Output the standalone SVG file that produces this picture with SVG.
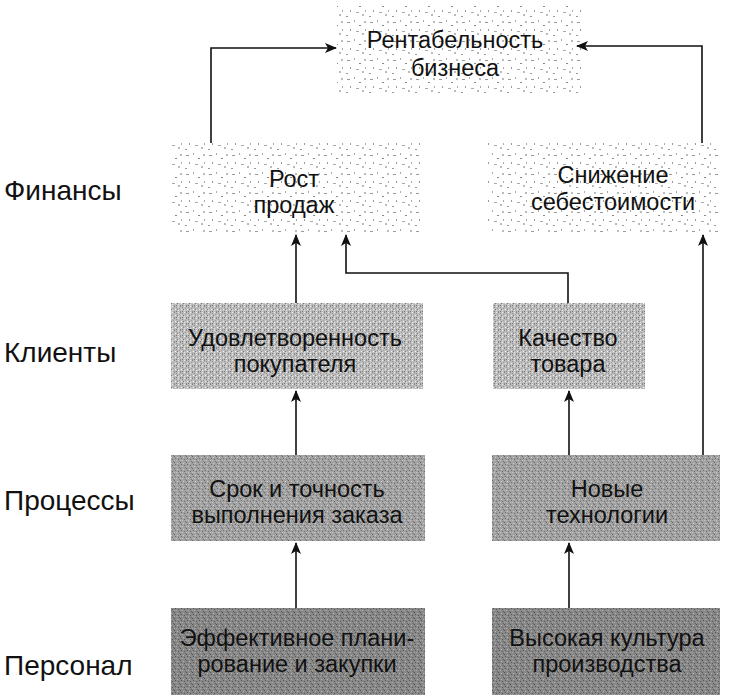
<svg xmlns="http://www.w3.org/2000/svg" width="746" height="695" viewBox="0 0 746 695">
<style>
.lbl{font-family:"Liberation Sans",Arial,sans-serif;font-size:28px;fill:#111}
.t{font-family:"Liberation Sans",Arial,sans-serif;font-size:23.5px;fill:#111;text-anchor:middle}
.c{fill:none;stroke:#111;stroke-width:1.6}
</style>
<defs>
<marker id="ah" viewBox="0 0 12 10" refX="11" refY="5" markerWidth="12" markerHeight="10" markerUnits="userSpaceOnUse" orient="auto">
<path d="M0,0 L12,5 L0,10 L3,5 Z" fill="#111"/>
</marker>
<pattern id="pF" width="23" height="19" patternUnits="userSpaceOnUse">
<rect width="23" height="19" fill="#fff"/>
<rect x="2" y="3" width="3" height="1" fill="#999"/>
<rect x="9" y="1" width="1" height="2" fill="#aaa"/>
<rect x="14" y="6" width="2" height="1" fill="#888"/>
<rect x="19" y="2" width="2" height="2" fill="#bbb"/>
<rect x="5" y="10" width="1" height="2" fill="#999"/>
<rect x="11" y="12" width="3" height="1" fill="#aaa"/>
<rect x="17" y="14" width="2" height="2" fill="#bbb"/>
<rect x="1" y="16" width="2" height="1" fill="#999"/>
<rect x="20" y="10" width="1" height="2" fill="#aaa"/>
</pattern>
<pattern id="pC" width="6" height="6" patternUnits="userSpaceOnUse">
<rect width="6" height="6" fill="#bdbdbd"/>
<rect x="0" y="0" width="1" height="1" fill="#808080"/>
<rect x="2" y="1" width="1" height="1" fill="#8e8e8e"/>
<rect x="4" y="0" width="1" height="1" fill="#eee"/>
<rect x="1" y="3" width="1" height="1" fill="#f2f2f2"/>
<rect x="3" y="3" width="1" height="1" fill="#7c7c7c"/>
<rect x="5" y="2" width="1" height="1" fill="#a0a0a0"/>
<rect x="0" y="5" width="1" height="1" fill="#909090"/>
<rect x="4" y="4" width="1" height="1" fill="#e6e6e6"/>
<rect x="2" y="5" width="1" height="1" fill="#777"/>
</pattern>
<pattern id="pP" width="6" height="6" patternUnits="userSpaceOnUse">
<rect width="6" height="6" fill="#a2a2a2"/>
<rect x="0" y="0" width="1" height="1" fill="#666"/>
<rect x="3" y="1" width="1" height="1" fill="#d0d0d0"/>
<rect x="1" y="2" width="1" height="1" fill="#707070"/>
<rect x="4" y="3" width="1" height="1" fill="#6a6a6a"/>
<rect x="2" y="4" width="1" height="1" fill="#c8c8c8"/>
<rect x="5" y="5" width="1" height="1" fill="#7a7a7a"/>
<rect x="0" y="4" width="1" height="1" fill="#bbb"/>
</pattern>
<pattern id="pE" width="6" height="6" patternUnits="userSpaceOnUse">
<rect width="6" height="6" fill="#888"/>
<rect x="0" y="0" width="1" height="1" fill="#505050"/>
<rect x="3" y="1" width="1" height="1" fill="#b5b5b5"/>
<rect x="1" y="2" width="1" height="1" fill="#585858"/>
<rect x="4" y="3" width="1" height="1" fill="#5a5a5a"/>
<rect x="2" y="4" width="1" height="1" fill="#aaa"/>
<rect x="5" y="5" width="1" height="1" fill="#606060"/>
<rect x="0" y="4" width="1" height="1" fill="#a0a0a0"/>
</pattern>
</defs>
<rect width="746" height="695" fill="#fff"/>

<g id="row-labels">
<text class="lbl" x="4" y="200">Финансы</text>
<text class="lbl" x="4" y="362">Клиенты</text>
<text class="lbl" x="4" y="510">Процессы</text>
<text class="lbl" x="4" y="675">Персонал</text>
</g>

<g id="n-rent"><rect x="337" y="4" width="245" height="90" fill="url(#pF)"/>
<text class="t" x="455" y="48">Рентабельность</text><text class="t" x="455" y="76">бизнеса</text></g>

<g id="n-rost"><rect x="172" y="143" width="250" height="90" fill="url(#pF)"/>
<text class="t" x="294" y="187">Рост</text><text class="t" x="294" y="213">продаж</text></g>

<g id="n-snizh"><rect x="488" y="143" width="230" height="90" fill="url(#pF)"/>
<text class="t" x="613" y="183">Снижение</text><text class="t" x="613" y="210">себестоимости</text></g>

<g id="n-udov"><rect x="171" y="303" width="252" height="86" fill="url(#pC)"/>
<text class="t" x="295" y="346">Удовлетворенность</text><text class="t" x="295" y="372">покупателя</text></g>

<g id="n-kach"><rect x="493" y="303" width="152" height="86" fill="url(#pC)"/>
<text class="t" x="568" y="346">Качество</text><text class="t" x="568" y="372">товара</text></g>

<g id="n-srok"><rect x="171" y="455" width="254" height="86" fill="url(#pP)"/>
<text class="t" x="297" y="497">Срок и точность</text><text class="t" x="297" y="523">выполнения заказа</text></g>

<g id="n-nov"><rect x="492" y="455" width="228" height="86" fill="url(#pP)"/>
<text class="t" x="607" y="497">Новые</text><text class="t" x="607" y="523">технологии</text></g>

<g id="n-eff"><rect x="171" y="608" width="254" height="87" fill="url(#pE)"/>
<text class="t" x="297" y="646">Эффективное плани-</text><text class="t" x="297" y="672">рование и закупки</text></g>

<g id="n-vys"><rect x="492" y="608" width="228" height="87" fill="url(#pE)"/>
<text class="t" x="607" y="646">Высокая культура</text><text class="t" x="607" y="672">производства</text></g>

<g id="connectors">
<path class="c" d="M211,143 V48 H336" marker-end="url(#ah)"/>
<path class="c" d="M702,143 V46 H577" marker-end="url(#ah)"/>
<path class="c" d="M296,303 V235" marker-end="url(#ah)"/>
<path class="c" d="M568,303 V273 H346 V235" marker-end="url(#ah)"/>
<path class="c" d="M703,455 V235" marker-end="url(#ah)"/>
<path class="c" d="M296,455 V391" marker-end="url(#ah)"/>
<path class="c" d="M569,455 V391" marker-end="url(#ah)"/>
<path class="c" d="M296,608 V543" marker-end="url(#ah)"/>
<path class="c" d="M569,608 V543" marker-end="url(#ah)"/>
</g>
</svg>
